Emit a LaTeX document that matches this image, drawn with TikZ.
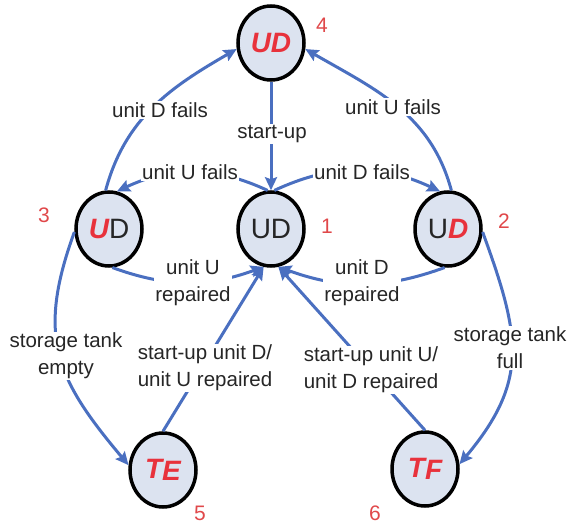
\documentclass[tikz,border=0pt]{standalone}
\usepackage{fontspec}
\setmainfont{Liberation Sans}
\usetikzlibrary{shapes.geometric,arrows.meta}
\definecolor{edgeblue}{HTML}{4A6FC0}
\definecolor{nodefill}{HTML}{DCE3F0}
\definecolor{txt}{HTML}{262626}
\definecolor{redtxt}{HTML}{E8323C}
\definecolor{numred}{HTML}{E0484A}
\newcommand{\rb}[1]{{\color{redtxt}\bfseries\itshape #1}}
\begin{document}
\begin{tikzpicture}[x=1pt,y=1pt,
  state/.style={ellipse, draw=black, line width=3.5pt, fill=nodefill,
    minimum width=66pt, minimum height=74pt, inner sep=0pt,
    font=\fontsize{28}{30}\selectfont, text=txt},
  conn/.style={draw=edgeblue, line width=3pt,
    -{Stealth[length=13pt,width=12pt,inset=2pt]}},
  lbl/.style={fill=white, text=txt, font=\fontsize{20.5}{27}\selectfont,
    inner sep=1pt, align=center},
  num/.style={text=numred, font=\fontsize{21}{24}\selectfont, inner sep=0pt}]
\useasboundingbox (0,0) rectangle (574,-524);

% states
\node[state] (n4) at (271,-43) {\rb{UD}};
\node[state] (n1) at (271,-229) {UD};
\node[state] (n3) at (109,-229) {\rb{U}D};
\node[state] (n2) at (448,-229) {U\rb{D}};
\node[state] (n5) at (163,-470) {\rb{T\raisebox{-2pt}{E}}};
\node[state] (n6) at (425,-469) {\rb{T\raisebox{-1.5pt}{F}}};

% numbers
\node[num] (k4) at (322,-25) {4};
\node[num] (k1) at (327,-226) {1};
\node[num] (k2) at (504,-221) {2};
\node[num] (k3) at (44,-215) {3};
\node[num] (k5) at (200,-513) {5};
\node[num] (k6) at (375,-513) {6};

% connectors
\draw[conn] (n3.95) to[out=75,in=210] (n4.190);
\draw[conn] (n2.85) to[out=105,in=-30] (n4.-10);
\draw[conn] (n4.south) -- (n1.north);
\draw[conn] (n1.95) to[out=155,in=25] (n3.78);
\draw[conn] (n1.85) to[out=25,in=155] (n2.102);
\draw[conn] (n3.-85) to[out=-20,in=200] (n1.259);
\draw[conn] (n2.-95) to[out=200,in=-20] (n1.281);
\draw[conn] (n5.north) -- (n1.259);
\draw[conn] (n6.north) -- (n1.281);
\draw[conn] (n3.185) to[out=250,in=130,looseness=1.2] (n5.172);
\draw[conn] (n2.-5) to[out=-70,in=50,looseness=1.2] (n6.8);

% labels
\node[lbl] (l34) at (160,-110) {unit D fails};
\node[lbl] (l24) at (393,-107) {unit U fails};
\node[lbl] (l41) at (272,-134) {start-up};
\node[lbl] (l13) at (190,-172) {unit U fails};
\node[lbl] (l12) at (362,-172) {unit D fails};
\node[lbl] (l31) at (193,-283) {unit U\\repaired};
\node[lbl] (l21) at (362,-283) {unit D\\repaired};
\node[lbl] (l35) at (66,-356) {storage tank\\empty};
\node[lbl] (l51) at (205,-368) {start-up unit D/\\unit U repaired};
\node[lbl] (l61) at (371,-370) {start-up unit U/\\unit D repaired};
\node[lbl] (l26) at (510,-348) {storage tank\\full};
\end{tikzpicture}
\end{document}
